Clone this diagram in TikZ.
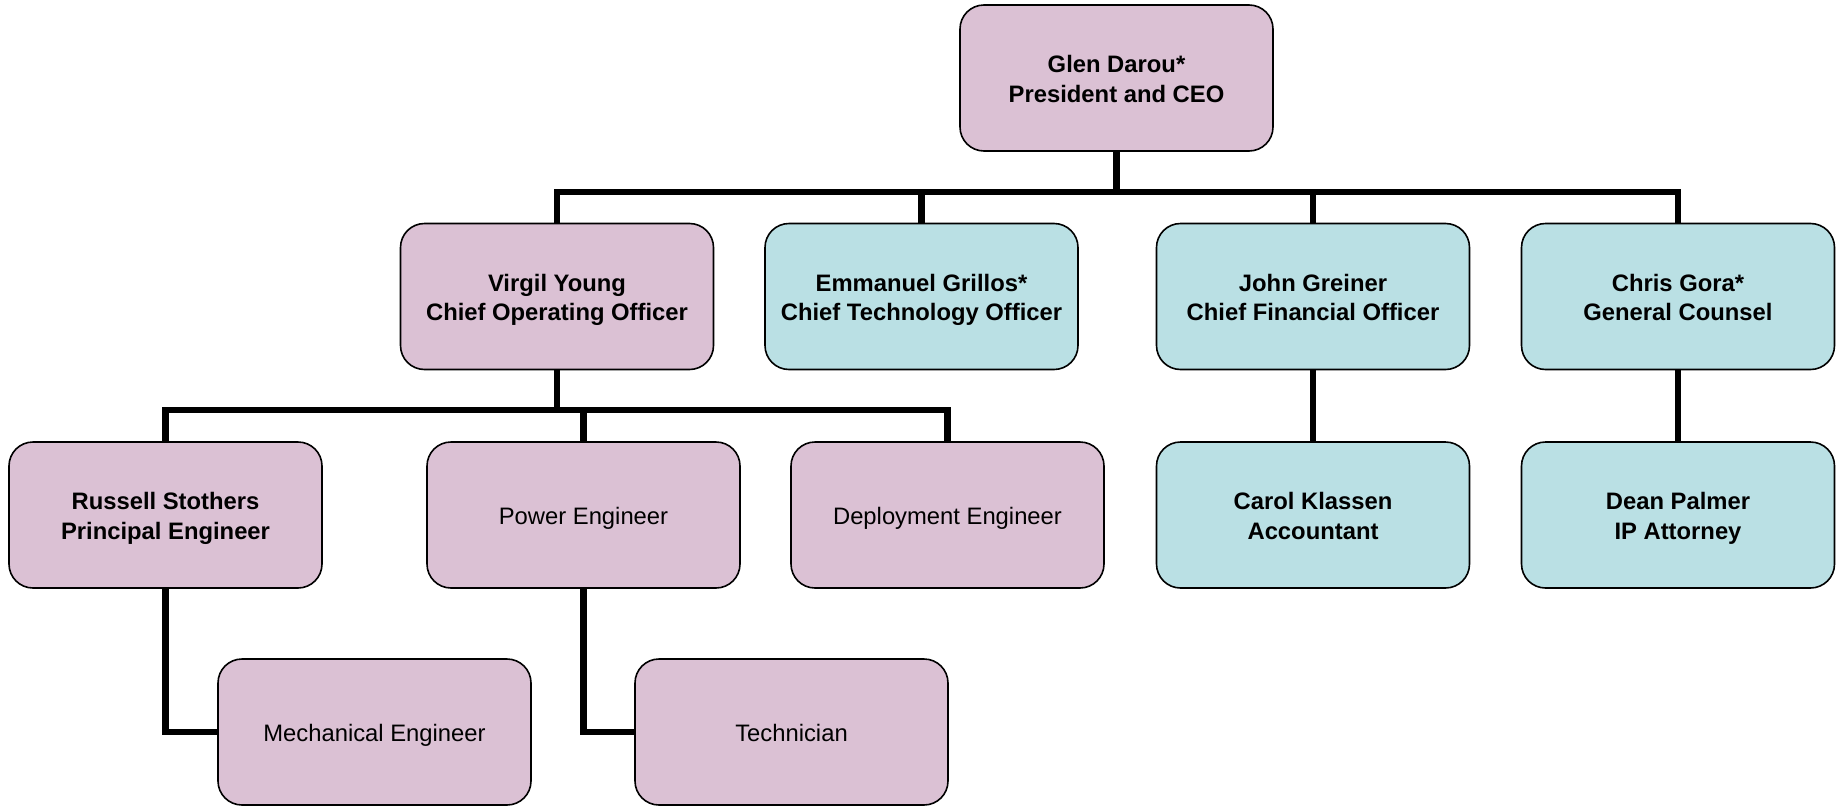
\documentclass[tikz,border=0pt]{standalone}
\usepackage{fontspec}
\setmainfont{Liberation Sans}
\definecolor{pinkfill}{RGB}{219,193,212}
\definecolor{tealfill}{RGB}{186,224,228}
\newcommand{\orgtxt}[1]{\raisebox{-3.5pt}[\height][\depth]{\begin{tabular}{@{}c@{}}#1\end{tabular}}}
\tikzset{
  x=1pt, y=-1pt,
  box/.style={draw=black, line width=1.6pt, rounded corners=24pt, minimum width=313pt, minimum height=146pt, align=center, inner sep=0pt, font=\fontsize{23.8}{29.5}\selectfont},
  pinkbox/.style={box, fill=pinkfill},
  tealbox/.style={box, fill=tealfill},
  conn/.style={line width=6.5pt, line join=miter}
}
\begin{document}
\begin{tikzpicture}
\useasboundingbox (0,0) rectangle (1841,806);
% level 1
\node[pinkbox] (ceo) at (1116.5,78) {\orgtxt{\bfseries Glen Darou*\\\bfseries President and CEO}};
% level 2
\node[pinkbox] (virgil) at (557,296.5) {\orgtxt{\bfseries Virgil Young\\\bfseries Chief Operating Officer}};
\node[tealbox] (emm) at (921.5,296.5) {\orgtxt{\bfseries Emmanuel Grillos*\\\bfseries Chief Technology Officer}};
\node[tealbox] (john) at (1313,296.5) {\orgtxt{\bfseries John Greiner\\\bfseries Chief Financial Officer}};
\node[tealbox] (chris) at (1678,296.5) {\orgtxt{\bfseries Chris Gora*\\\bfseries General Counsel}};
% level 3
\node[pinkbox] (russell) at (165.5,515) {\orgtxt{\bfseries Russell Stothers\\\bfseries Principal Engineer}};
\node[pinkbox] (power) at (583.5,515) {\orgtxt{Power Engineer}};
\node[pinkbox] (deploy) at (947.5,515) {\orgtxt{Deployment Engineer}};
\node[tealbox] (carol) at (1313,515) {\orgtxt{\bfseries Carol Klassen\\\bfseries Accountant}};
\node[tealbox] (dean) at (1678,515) {\orgtxt{\bfseries Dean Palmer\\\bfseries IP Attorney}};
% level 4
\node[pinkbox] (mech) at (374.5,732) {\orgtxt{Mechanical Engineer}};
\node[pinkbox] (tech) at (791.5,732) {\orgtxt{Technician}};
% connectors
\draw[conn] (ceo.south) -- ++(0,40) -| (virgil.north);
\draw[conn] (ceo.south) -- ++(0,40) -| (emm.north);
\draw[conn] (ceo.south) -- ++(0,40) -| (john.north);
\draw[conn] (ceo.south) -- ++(0,40) -| (chris.north);
\draw[conn] (virgil.south) -- ++(0,39.5) -| (russell.north);
\draw[conn] (virgil.south) -- ++(0,39.5) -| (power.north);
\draw[conn] (virgil.south) -- ++(0,39.5) -| (deploy.north);
\draw[conn] (john.south) -- (carol.north);
\draw[conn] (chris.south) -- (dean.north);
\draw[conn] (russell.south) |- (mech.west);
\draw[conn] (power.south) |- (tech.west);
\end{tikzpicture}
\end{document}
